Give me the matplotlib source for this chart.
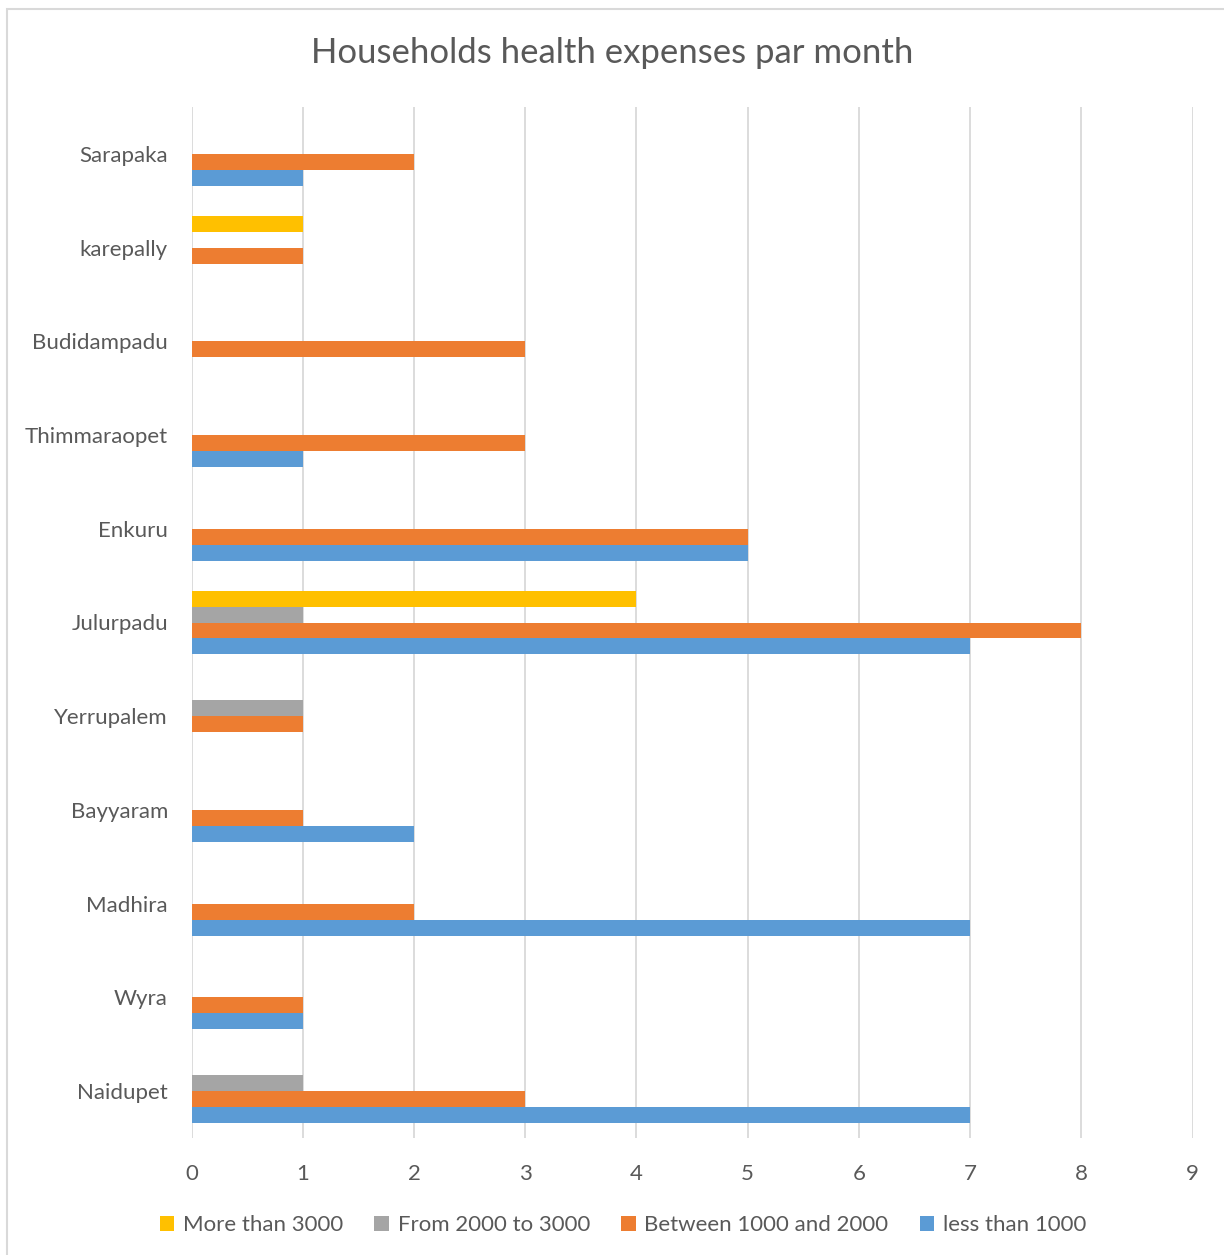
import numpy as np
import matplotlib.pyplot as plt
from matplotlib.patches import Rectangle

plt.rcParams['font.family'] = ['Lato', 'DejaVu Sans']

villages = ['Naidupet', 'Wyra', 'Madhira', 'Bayyaram', 'Yerrupalem', 'Julurpadu',
            'Enkuru', 'Thimmaraopet', 'Budidampadu', 'karepally', 'Sarapaka']
less_1000 = [7, 1, 7, 2, 0, 7, 5, 1, 0, 0, 1]
btw_1000_2000 = [3, 1, 2, 1, 1, 8, 5, 3, 3, 1, 2]
btw_2000_3000 = [1, 0, 0, 0, 1, 1, 0, 0, 0, 0, 0]
more_3000 = [0, 0, 0, 0, 0, 4, 0, 0, 0, 1, 0]

series = [
    ('less than 1000', less_1000, '#5B9BD5'),
    ('Between 1000 and 2000', btw_1000_2000, '#ED7D31'),
    ('From 2000 to 3000', btw_2000_3000, '#A5A5A5'),
    ('More than 3000', more_3000, '#FFC000'),
]

W, H = 1224, 1255
fig = plt.figure(figsize=(W / 100, H / 100), dpi=100)
ax = fig.add_axes([191.5 / W, (H - 1138) / H, 1001 / W, 1031 / H])

text_col = '#595959'
h = 0.17
y = np.arange(len(villages))
handles = []
for i, (name, vals, col) in enumerate(series):
    b = ax.barh(y + (i - 1.5) * h, vals, height=h, color=col, label=name, linewidth=0)
    handles.append(b)

ax.set_xlim(0, 9)
ax.set_ylim(-0.5, len(villages) - 0.5)
ax.set_xticks(range(10))
ax.set_yticks(y)
ax.set_yticklabels(villages)
ax.grid(axis='x', color='#D9D9D9', linewidth=1.3)
ax.set_axisbelow(True)
for s in ax.spines.values():
    s.set_visible(False)
ax.tick_params(axis='both', length=0, labelsize=16, labelcolor=text_col)
ax.tick_params(axis='y', pad=17)
ax.tick_params(axis='x', pad=19)

fig.text(0.5, (H - 53) / H, 'Households health expenses par month', ha='center', va='center',
         fontsize=25, color=text_col)

fig.legend(handles[::-1], [s[0] for s in series][::-1], loc='center',
           bbox_to_anchor=(623 / W, (H - 1225) / H), ncol=4, frameon=False,
           fontsize=16, labelcolor=text_col, handlelength=0.65, handleheight=0.65,
           handletextpad=0.4, columnspacing=1.4)

# chart border
fig.patches.append(Rectangle((7 / W, -0.01), 1.02, (H - 9) / H + 0.01, transform=fig.transFigure,
                             fill=False, edgecolor='#D9D9D9', linewidth=1.5))

fig.savefig('out.png', dpi=100)
